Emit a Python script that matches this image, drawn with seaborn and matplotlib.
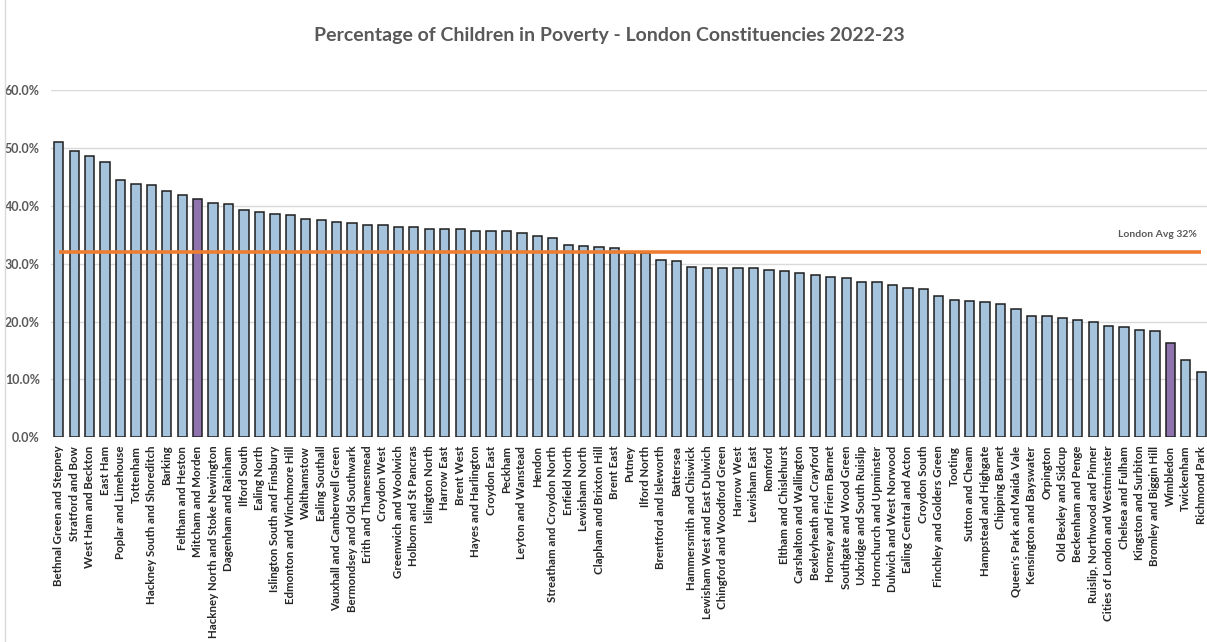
import numpy as np
import pandas as pd
import matplotlib
matplotlib.use("Agg")
import matplotlib.pyplot as plt
from matplotlib.ticker import FuncFormatter
from matplotlib.lines import Line2D
import seaborn as sns

constituencies = [
    "Bethnal Green and Stepney", "Stratford and Bow", "West Ham and Beckton", "East Ham",
    "Poplar and Limehouse", "Tottenham", "Hackney South and Shoreditch", "Barking",
    "Feltham and Heston", "Mitcham and Morden", "Hackney North and Stoke Newington",
    "Dagenham and Rainham", "Ilford South", "Ealing North", "Islington South and Finsbury",
    "Edmonton and Winchmore Hill", "Walthamstow", "Ealing Southall",
    "Vauxhall and Camberwell Green", "Bermondsey and Old Southwark", "Erith and Thamesmead",
    "Croydon West", "Greenwich and Woolwich", "Holborn and St Pancras", "Islington North",
    "Harrow East", "Brent West", "Hayes and Harlington", "Croydon East", "Peckham",
    "Leyton and Wanstead", "Hendon", "Streatham and Croydon North", "Enfield North",
    "Lewisham North", "Clapham and Brixton Hill", "Brent East", "Putney", "Ilford North",
    "Brentford and Isleworth", "Battersea", "Hammersmith and Chiswick",
    "Lewisham West and East Dulwich", "Chingford and Woodford Green", "Harrow West",
    "Lewisham East", "Romford", "Eltham and Chislehurst", "Carshalton and Wallington",
    "Bexleyheath and Crayford", "Hornsey and Friern Barnet", "Southgate and Wood Green",
    "Uxbridge and South Ruislip", "Hornchurch and Upminster", "Dulwich and West Norwood",
    "Ealing Central and Acton", "Croydon South", "Finchley and Golders Green", "Tooting",
    "Sutton and Cheam", "Hampstead and Highgate", "Chipping Barnet",
    "Queen's Park and Maida Vale", "Kensington and Bayswater", "Orpington",
    "Old Bexley and Sidcup", "Beckenham and Penge", "Ruislip, Northwood and Pinner",
    "Cities of London and Westminster", "Chelsea and Fulham", "Kingston and Surbiton",
    "Bromley and Biggin Hill", "Wimbledon", "Twickenham", "Richmond Park",
]

child_poverty_pct = [
    51.0, 49.4, 48.6, 47.6, 44.4, 43.8, 43.6, 42.5, 41.8, 41.1,
    40.4, 40.3, 39.2, 39.0, 38.6, 38.4, 37.8, 37.5, 37.2, 37.1,
    36.7, 36.7, 36.4, 36.3, 36.0, 36.0, 35.9, 35.7, 35.6, 35.6,
    35.3, 34.8, 34.4, 33.3, 33.0, 32.9, 32.7, 31.9, 31.9, 30.6,
    30.5, 29.4, 29.3, 29.3, 29.3, 29.2, 28.9, 28.8, 28.3, 28.1,
    27.7, 27.6, 26.9, 26.8, 26.3, 25.8, 25.7, 24.4, 23.8, 23.5,
    23.3, 23.0, 22.2, 21.0, 21.0, 20.6, 20.2, 20.0, 19.3, 19.1,
    18.6, 18.4, 16.3, 13.3, 11.3,
]

highlighted = ["Mitcham and Morden", "Wimbledon"]
london_avg = 32.0
y_ticks = [0, 10, 20, 30, 40, 50, 60]

title_text = "Percentage of Children in Poverty - London Constituencies 2022-23"
avg_label = "London Avg 32%"

BAR_BLUE = "#9DC3E6"
BAR_PURPLE = "#8E69B8"
AVG_ORANGE = "#ED7D31"
TEXT_GREY = "#595959"
GRID_GREY = "#D9D9D9"

df = pd.DataFrame({
    "constituency": constituencies,
    "pct": child_poverty_pct,
})
df["group"] = np.where(df["constituency"].isin(highlighted), "highlight", "other")

sns.set_theme(style="white")
plt.rcParams["font.family"] = ["Lato", "DejaVu Sans"]

fig = plt.figure(figsize=(12.07, 6.42), dpi=100)
ax = fig.add_axes([51 / 1207, 204.7 / 642, 1158 / 1207, 347.3 / 642])

sns.barplot(
    data=df, x="constituency", y="pct", hue="group",
    palette={"other": BAR_BLUE, "highlight": BAR_PURPLE},
    dodge=False, width=0.6, edgecolor="#1E1E1E", linewidth=1.1,
    legend=False, ax=ax, zorder=3,
)

# London average reference series across all constituencies
positions = np.arange(len(constituencies))
ax.plot(positions, np.full(len(constituencies), london_avg),
        color=AVG_ORANGE, linewidth=2.6, zorder=4, solid_capstyle="butt")
ax.text(len(constituencies) - 1.3, london_avg + 3.0, avg_label,
        ha="right", va="center", fontsize=7.5, fontweight="bold", color=TEXT_GREY)

ax.set_xlim(-0.5, len(constituencies) - 0.5)
ax.set_ylim(0, 60)
ax.set_yticks(y_ticks)
ax.yaxis.set_major_formatter(FuncFormatter(lambda v, _: f"{v:.1f}%"))
ax.grid(axis="y", color=GRID_GREY, linewidth=1.0, zorder=0)
ax.grid(axis="x", visible=False)
for side in ["top", "right", "left", "bottom"]:
    ax.spines[side].set_visible(False)

ax.set_xlabel("")
ax.set_ylabel("")
ax.tick_params(axis="y", length=0, pad=8, labelsize=9, labelcolor=TEXT_GREY)
ax.tick_params(axis="x", length=0, pad=6, labelsize=8.3, labelcolor="#262626")
for lbl in ax.get_yticklabels():
    lbl.set_fontweight("bold")
ax.set_xticks(positions)
ax.set_xticklabels(constituencies, rotation=90, fontweight="bold")

fig.text(0.505, 1 - 35 / 642, title_text, ha="center", va="center",
         fontsize=14, fontweight="bold", color=TEXT_GREY)

# chart area border on the left edge
fig.add_artist(Line2D([5 / 1207, 5 / 1207], [0, 1], color=GRID_GREY,
                      linewidth=1.0, transform=fig.transFigure))

fig.savefig("out.png", dpi=100, facecolor="white")
